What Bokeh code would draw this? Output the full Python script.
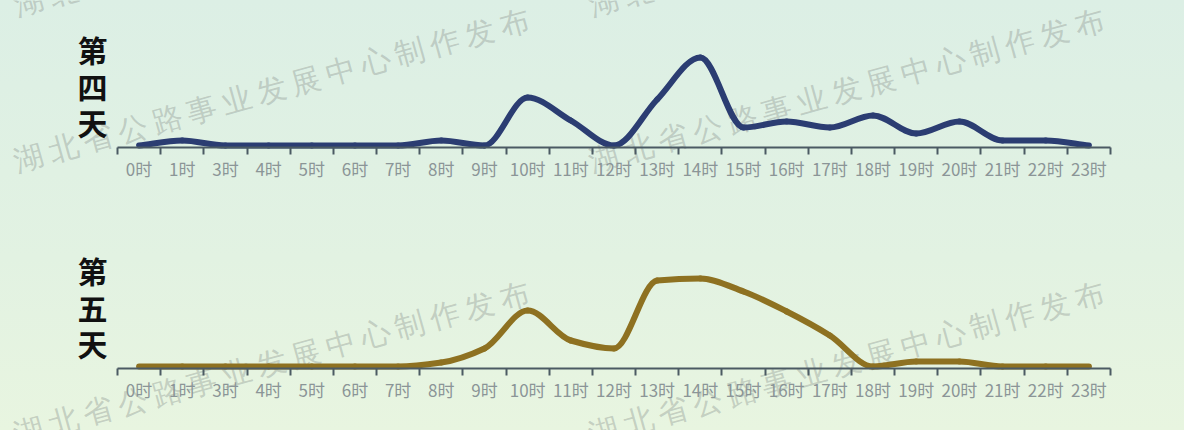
import math
from bokeh.plotting import figure
from bokeh.models import Range1d, FixedTicker, Label, LabelSet, ColumnDataSource, LinearAxis
from bokeh.layouts import column
from bokeh.embed import file_html
from bokeh.resources import INLINE

# ---------------- data ----------------
hours = ["0时", "1时", "3时", "4时", "5时", "6时", "7时", "8时", "9时", "10时", "11时", "12时",
         "13时", "14时", "15时", "16时", "17时", "18时", "19时", "20时", "21时", "22时", "23时"]
day4 = [0, 5, 0, 0, 0, 0, 0, 5, 0, 48, 25, 0, 46, 88, 18, 24, 18, 30, 12, 24, 5, 5, 0]
day5 = [0, 0, 0, 0, 0, 0, 0, 4, 18, 56, 26, 18, 86, 88, 75, 55, 31, 0, 5, 5, 0, 0, 0]
title4 = ["第", "四", "天"]
title5 = ["第", "五", "天"]
watermark_text = "湖北省公路事业发展中心制作发布"

# ---------------- layout / style ----------------
W, H = 1184, 430
AX_L, AX_R = 117, 1110             # axis span (picture pixels)
N = len(hours)
UNIT = (AX_R - AX_L) / N           # pixels per category
AXIS_COL = "#4b5a63"
LABEL_COL = "#8b9597"
WM_COL = "#8c948f"
BASE4, BASE5 = 145, 366            # picture y of the value 0 in each panel

p = figure(width=W, height=H, output_backend="svg", toolbar_location=None,
           x_range=Range1d(-0.5 - AX_L / UNIT, N - 0.5 + (W - AX_R) / UNIT),
           y_range=Range1d(-H, 0),   # negated picture-pixel y, for decorations
           min_border=0, x_axis_location=None, y_axis_location=None)
p.extra_y_ranges = {
    "d4": Range1d(BASE4 - H, BASE4),
    "d5": Range1d(BASE5 - H, BASE5),
}
p.background_fill_alpha = 0
p.border_fill_alpha = 0
p.outline_line_color = None
p.grid.visible = False


def px_x(px):
    return (px - AX_L) / UNIT - 0.5


def px_y(py):
    return -py


# ---------------- watermarks ----------------
th = math.radians(15.5)
xs, ys, ts = [], [], []
for (sx, sy) in [(28, 1), (603, 1), (28, 157), (603, 157), (28, 430), (603, 430)]:
    for k, ch in enumerate(watermark_text):
        xs.append(px_x(sx + 36 * k * math.cos(th)))
        ys.append(px_y(sy - 36 * k * math.sin(th)))
        ts.append(ch)
p.add_layout(LabelSet(x="x", y="y", text="t", source=ColumnDataSource(dict(x=xs, y=ys, t=ts)),
                      angle=th, text_align="center", text_baseline="middle",
                      text_font="Noto Sans CJK SC", text_font_size="30px",
                      text_color=WM_COL, text_alpha=0.4, level="underlay"))


# ---------------- panels ----------------
def monotone_slopes(y):
    n = len(y)
    d = [y[i + 1] - y[i] for i in range(n - 1)]
    m = [0.0] * n
    m[0] = d[0]
    m[-1] = d[-1]
    for i in range(1, n - 1):
        if d[i - 1] * d[i] <= 0:
            m[i] = 0.0
        else:
            m[i] = 2.0 / (1.0 / d[i - 1] + 1.0 / d[i])
    return m


def add_panel(values, color, title, rname, base):
    ax = LinearAxis(y_range_name=rname, fixed_location=-2, bounds=(-0.5, N - 0.5))
    ax.ticker = FixedTicker(ticks=list(range(N)), minor_ticks=[i - 0.5 for i in range(N + 1)])
    ax.major_label_overrides = {i: h for i, h in enumerate(hours)}
    ax.axis_line_color = AXIS_COL
    ax.axis_line_width = 2
    ax.major_tick_out = 0
    ax.major_tick_in = 0
    ax.minor_tick_out = 7
    ax.minor_tick_in = 0
    ax.minor_tick_line_color = AXIS_COL
    ax.minor_tick_line_width = 2
    ax.major_label_standoff = 1
    ax.major_label_text_font = "Noto Sans CJK SC"
    ax.major_label_text_font_size = "17px"
    ax.major_label_text_color = LABEL_COL
    p.add_layout(ax, "below")

    for ch, off in zip(title, [97, 60, 24]):
        p.add_layout(Label(x=px_x(92), y=px_y(base - off), text=ch,
                           text_align="center", text_baseline="middle",
                           text_font="Noto Sans CJK SC", text_font_style="bold",
                           text_font_size="30px", text_color="#111111"))

    m = monotone_slopes(values)
    x = list(range(N))
    p.bezier(x0=x[:-1], y0=values[:-1], x1=x[1:], y1=values[1:],
             cx0=[xi + 1 / 3 for xi in x[:-1]], cy0=[values[i] + m[i] / 3 for i in range(N - 1)],
             cx1=[xi + 2 / 3 for xi in x[:-1]], cy1=[values[i + 1] - m[i + 1] / 3 for i in range(N - 1)],
             line_color=color, line_width=6, line_cap="round", y_range_name=rname)


add_panel(day4, "#2b3d72", title4, "d4", BASE4)
add_panel(day5, "#8e7121", title5, "d5", BASE5)

layout = column(p, styles={"background": "linear-gradient(to bottom, #dcefe5, #e2f2e2 60%, #e8f5e0)"})

open("out.html", "w").write(file_html(layout, INLINE))
